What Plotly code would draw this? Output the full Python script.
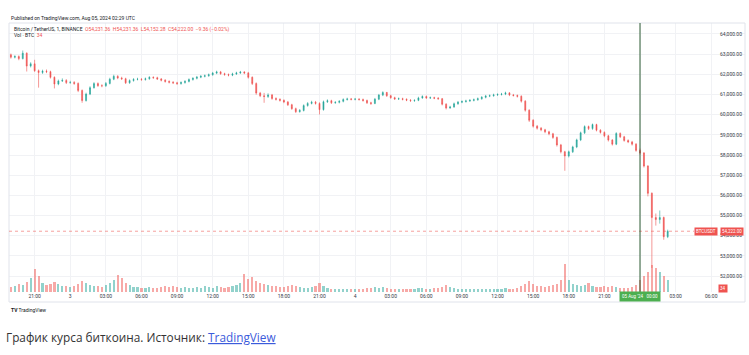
import plotly.graph_objects as go
import pandas as pd

W, H = 749, 355

# ---------------- data (20-minute candles) ----------------
start_time = "2024-08-02 19:00"
open_first = 62970

close = [
    62850, 62880, 62780, 63050, 62410, 62520, 62180, 62090, 62160, 62130,
    61850, 61520, 61670, 61700, 61590, 61600, 61550, 61200, 60700, 61020,
    61340, 61540, 61440, 61430, 61550, 61760, 61900, 61820, 61780, 61580,
    61690, 61750, 61760, 61740, 61780, 61850, 61830, 61770, 61710, 61650,
    61610, 61580, 61540, 61590, 61650, 61740, 61800, 61860, 61900, 61930,
    61980, 62060, 62120, 62030, 61990, 61960, 62020, 62070, 62110, 62070,
    61850, 61540, 61070, 60940, 60900, 60980, 60800, 60760, 60710, 60630,
    60490, 60300, 60150, 60210, 60450, 60560, 60620, 60560, 60250, 60640,
    60690, 60590, 60610, 60660, 60750, 60780, 60760, 60770, 60750, 60700,
    60590, 60560, 60770, 60970, 61100, 60940, 60840, 60780, 60790, 60760,
    60720, 60690, 60710, 60830, 60900, 60830, 60840, 60820, 60790, 60520,
    60330, 60380, 60540, 60620, 60650, 60680, 60710, 60740, 60790, 60860,
    60920, 60940, 60980, 61000, 61020, 61080, 60980, 60950, 60910, 60670,
    60220, 59720, 59430, 59330, 59250, 59150, 59050, 58870, 58500, 58160,
    57950, 58160, 58400, 58750, 59100, 59410, 59310, 59510, 59230, 59120,
    58950, 58740, 58540, 59070, 58900, 58720, 58650, 58540, 58230, 58100,
    57450, 56100, 54900, 54800, 54900, 53950, 54222,
]

high = [
    63030, 62950, 62940, 63180, 63090, 62600, 62720, 62240, 62230, 62240,
    62180, 61900, 61740, 61800, 61760, 61680, 61660, 61600, 61250, 61090,
    61410, 61610, 61600, 61510, 61620, 61830, 61980, 61960, 61880, 61830,
    61750, 61810, 61830, 61810, 61840, 61910, 61900, 61880, 61820, 61760,
    61700, 61660, 61630, 61650, 61710, 61800, 61860, 61920, 61960, 61990,
    62040, 62120, 62180, 62170, 62080, 62040, 62080, 62130, 62170, 62160,
    62120, 61900, 61600, 61130, 61080, 61060, 61030, 60860, 60810, 60760,
    60680, 60540, 60350, 60280, 60510, 60620, 60690, 60680, 60610, 60700,
    60760, 60740, 60670, 60720, 60810, 60840, 60830, 60830, 60820, 60800,
    60750, 60640, 60830, 61030, 61160, 61130, 60990, 60890, 60850, 60840,
    60810, 60770, 60760, 60890, 60960, 60950, 60900, 60890, 60870, 60830,
    60570, 60440, 60600, 60680, 60710, 60740, 60770, 60800, 60850, 60920,
    60980, 61000, 61040, 61060, 61080, 61140, 61120, 61030, 61000, 60960,
    60720, 60270, 59780, 59490, 59390, 59300, 59200, 59100, 58920, 58550,
    58210, 58220, 58460, 58810, 59160, 59470, 59460, 59560, 59550, 59280,
    59170, 59000, 58790, 59130, 59120, 58950, 58780, 58700, 58590, 58320,
    58150, 57500, 56150, 55100, 55250, 54950, 54300,
]

low = [
    62780, 62790, 62700, 62740, 62140, 62340, 62120, 61340, 62020, 62060,
    61790, 61300, 61460, 61620, 61520, 61530, 61480, 61120, 60590, 60650,
    60970, 61290, 61380, 61360, 61380, 61500, 61710, 61760, 61720, 61520,
    61530, 61640, 61700, 61680, 61690, 61730, 61780, 61720, 61650, 61590,
    61550, 61520, 61480, 61490, 61540, 61600, 61690, 61750, 61810, 61850,
    61880, 61930, 62010, 61980, 61930, 61900, 61910, 61970, 62020, 62010,
    61790, 61470, 60990, 60870, 60590, 60830, 60740, 60700, 60650, 60570,
    60430, 60240, 60080, 60100, 60160, 60400, 60510, 60500, 60010, 60200,
    60580, 60530, 60540, 60560, 60610, 60700, 60710, 60710, 60700, 60650,
    60530, 60480, 60520, 60720, 60920, 60880, 60790, 60730, 60730, 60710,
    60670, 60640, 60640, 60670, 60790, 60780, 60780, 60770, 60740, 60460,
    60260, 60290, 60340, 60490, 60570, 60600, 60630, 60660, 60690, 60740,
    60810, 60870, 60890, 60930, 60950, 60970, 60920, 60900, 60850, 60600,
    60150, 59640, 59360, 59260, 59180, 59080, 58980, 58800, 58420, 58080,
    57220, 57880, 58100, 58340, 58690, 59040, 59240, 59250, 59170, 59060,
    58880, 58670, 58470, 58490, 58840, 58660, 58590, 58470, 58160, 58020,
    57380, 55950, 52400, 54500, 54600, 53800, 53880,
]

volume = [
    200, 240, 320, 280, 400, 560, 920, 640, 360, 280,
    320, 400, 320, 240, 240, 200, 240, 320, 440, 360,
    280, 240, 240, 200, 280, 360, 480, 680, 560, 360,
    280, 200, 200, 160, 160, 200, 160, 160, 200, 240,
    200, 240, 200, 160, 200, 160, 160, 200, 160, 240,
    200, 160, 240, 200, 160, 200, 240, 280, 360, 720,
    520, 600, 440, 360, 320, 280, 240, 240, 200, 200,
    240, 280, 240, 200, 160, 160, 200, 240, 360, 240,
    160, 120, 120, 120, 120, 120, 120, 120, 120, 120,
    160, 160, 200, 160, 200, 160, 120, 120, 120, 120,
    120, 120, 120, 160, 160, 120, 120, 160, 160, 200,
    280, 200, 160, 120, 120, 120, 120, 120, 120, 120,
    120, 120, 120, 120, 120, 160, 120, 120, 160, 240,
    320, 440, 320, 240, 240, 200, 240, 280, 320, 480,
    1120, 480, 320, 280, 240, 280, 360, 240, 200, 200,
    240, 200, 240, 200, 160, 160, 160, 200, 280, 480,
    640, 800, 1080, 960, 800, 640, 480,
]

price_ticks = [52000, 53000, 54000, 55000, 56000, 57000, 58000, 59000, 60000, 61000, 62000, 63000, 64000]
last_price = 54222.00
last_volume = 34

# ---------------- derived ----------------
times = pd.date_range(start_time, periods=len(close), freq="20min")
opens = [open_first] + close[:-1]
UP, DOWN = "#26a69a", "#ef5350"
vol_colors = ["rgba(38,166,154,0.5)" if c >= o else "rgba(239,83,80,0.5)" for o, c in zip(opens, close)]

tick_times = pd.date_range("2024-08-02 21:00", "2024-08-05 06:00", freq="3h")
# the Aug 5 00:00 tick is covered by the crosshair time label in the reference
tick_text = ["" if (t.day == 5 and t.hour == 0) else (str(t.day) if t.hour == 0 else t.strftime("%H:%M"))
             for t in tick_times]


def pxx(x):
    return x / W


def pxy(y):
    return 1 - y / H


Y_TOP, Y_BOT = 23, 292
X_LEFT, X_RIGHT = 9, 745

fig = go.Figure()
fig.add_trace(go.Bar(
    x=times, y=volume, yaxis="y2", marker=dict(color=vol_colors, line=dict(width=0)),
    width=20 * 60 * 1000 * 0.55, hoverinfo="skip", showlegend=False,
))
fig.add_trace(go.Candlestick(
    x=times, open=opens, high=high, low=low, close=close,
    increasing=dict(line=dict(color=UP, width=0.6), fillcolor=UP),
    decreasing=dict(line=dict(color=DOWN, width=0.6), fillcolor=DOWN),
    whiskerwidth=0, showlegend=False, hoverinfo="skip",
))

font_small = dict(family="Roboto, Arial, sans-serif", size=5, color="#363a45")

fig.update_layout(
    width=W, height=H, margin=dict(l=0, r=0, t=0, b=0),
    paper_bgcolor="white", plot_bgcolor="white",
    bargap=0, boxgap=0.65,
    xaxis=dict(
        domain=[pxx(X_LEFT), pxx(X_RIGHT)],
        type="date",
        range=["2024-08-02 18:50:26", "2024-08-05 08:50:46"],
        tickvals=tick_times, ticktext=tick_text,
        showgrid=True, gridcolor="#f1f2f5", gridwidth=1,
        ticks="", showline=False, zeroline=False,
        tickfont=font_small, rangeslider=dict(visible=False),
        fixedrange=True,
    ),
    yaxis=dict(
        domain=[pxy(Y_BOT), pxy(Y_TOP)],
        range=[51209, 64545],
        side="right", ticklabelposition="inside",
        tickvals=price_ticks, ticktext=[f"{v:,.2f}" for v in price_ticks],
        showgrid=True, gridcolor="#f1f2f5", gridwidth=1,
        ticks="", showline=False, zeroline=False,
        tickfont=font_small, fixedrange=True,
    ),
    yaxis2=dict(
        overlaying="y", range=[0, 10760], visible=False, fixedrange=True,
    ),
)

shapes = [
    # frame
    dict(type="rect", xref="paper", yref="paper",
         x0=pxx(X_LEFT), x1=pxx(X_RIGHT), y0=pxy(302), y1=pxy(Y_TOP),
         line=dict(color="#e0e3eb", width=1), fillcolor="rgba(0,0,0,0)", layer="above"),
    # last price dotted line
    dict(type="line", xref="paper", yref="y",
         x0=pxx(X_LEFT), x1=pxx(694), y0=last_price, y1=last_price,
         line=dict(color="rgba(239,83,80,0.55)", width=1, dash="dot")),
    # crosshair vertical line
    dict(type="line", xref="x", yref="paper",
         x0="2024-08-05 00:00", x1="2024-08-05 00:00", y0=pxy(Y_BOT), y1=pxy(Y_TOP),
         line=dict(color="#2f5d34", width=1)),
]

ann = []
ann.append(dict(text="Published on TradingView.com, Aug 05, 2024 02:29 UTC",
                x=pxx(9), y=pxy(18), xref="paper", yref="paper",
                xanchor="left", yanchor="middle", showarrow=False,
                font=dict(family="Roboto, Arial, sans-serif", size=5, color="#131722")))
ann.append(dict(text="Bitcoin / TetherUS, 1, BINANCE  <span style='color:#ef5350'>O54,231.36  H54,231.36  L54,152.28  C54,222.00  −9.36 (−0.02%)</span>",
                x=pxx(12), y=pxy(29), xref="paper", yref="paper",
                xanchor="left", yanchor="middle", showarrow=False,
                font=dict(family="Roboto, Arial, sans-serif", size=5, color="#131722")))
ann.append(dict(text=f"Vol · BTC  <span style='color:#ef5350'>{last_volume}</span>",
                x=pxx(12), y=pxy(35), xref="paper", yref="paper",
                xanchor="left", yanchor="middle", showarrow=False,
                font=dict(family="Roboto, Arial, sans-serif", size=5, color="#131722")))
# price label boxes
ann.append(dict(text="BTCUSDT", x=pxx(705.5), y=last_price, xref="paper", yref="y",
                xanchor="center", yanchor="middle", showarrow=False, bgcolor="#ef5350",
                borderpad=1, font=dict(family="Roboto, Arial, sans-serif", size=4.5, color="white")))
ann.append(dict(text=f"{last_price:,.2f}", x=pxx(731.5), y=last_price, xref="paper", yref="y",
                xanchor="center", yanchor="middle", showarrow=False, bgcolor="#ef5350",
                borderpad=1, font=dict(family="Roboto, Arial, sans-serif", size=4.5, color="white")))
ann.append(dict(text=f"{last_volume}", x=pxx(723), y=pxy(288.5), xref="paper", yref="paper",
                xanchor="center", yanchor="middle", showarrow=False, bgcolor="#ef5350",
                borderpad=1, font=dict(family="Roboto, Arial, sans-serif", size=4.5, color="white")))
# time crosshair label
ann.append(dict(text="05 Aug '24   00:00", x="2024-08-05 00:00", y=pxy(296.5), xref="x", yref="paper",
                xanchor="center", yanchor="middle", showarrow=False, bgcolor="#4caf50",
                borderpad=2, font=dict(family="Roboto, Arial, sans-serif", size=4.5, color="white")))
# logo
ann.append(dict(text="<b>TV</b> TradingView", x=pxx(9), y=pxy(310), xref="paper", yref="paper",
                xanchor="left", yanchor="middle", showarrow=False,
                font=dict(family="Roboto, Arial, sans-serif", size=5, color="#131722")))
# caption
ann.append(dict(text="График курса биткоина. Источник: <span style='color:#3b5bdb;text-decoration:underline'>TradingView</span>",
                x=pxx(4), y=pxy(337), xref="paper", yref="paper",
                xanchor="left", yanchor="middle", showarrow=False,
                font=dict(family="Open Sans, Noto Sans, sans-serif", size=11.8, color="#333333")))

fig.update_layout(shapes=shapes, annotations=ann)
fig.write_html("out.html")
